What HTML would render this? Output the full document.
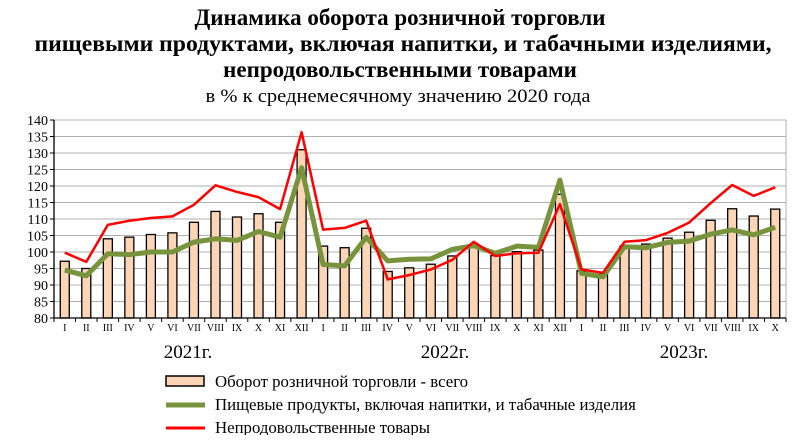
<!DOCTYPE html>
<html><head><meta charset="utf-8"><style>
body{margin:0;background:#fff;width:800px;height:435px;overflow:hidden;font-family:"Liberation Serif",serif;}
</style></head><body>
<svg id="s" width="800" height="435" xmlns="http://www.w3.org/2000/svg" font-family="Liberation Serif, serif">
<text x="400" y="25" text-anchor="middle" font-size="23" font-weight="bold">Динамика оборота розничной торговли</text>
<text x="403" y="51" text-anchor="middle" font-size="23" font-weight="bold" textLength="737" lengthAdjust="spacingAndGlyphs">пищевыми продуктами, включая напитки, и табачными изделиями,</text>
<text x="400" y="77" text-anchor="middle" font-size="23" font-weight="bold">непродовольственными товарами</text>
<text x="398" y="102" text-anchor="middle" font-size="19" textLength="385" lengthAdjust="spacingAndGlyphs">в % к среднемесячному значению 2020 года</text>
<g id="g"></g>
<rect x="166" y="376" width="38" height="10" fill="#fbd5b5" stroke="#000" stroke-width="1.5"/>
<line x1="166" y1="405" x2="205" y2="405" stroke="#77933c" stroke-width="5"/>
<line x1="166" y1="428" x2="205" y2="428" stroke="#ff0000" stroke-width="3"/>
<text x="215" y="387" font-size="16.8">Оборот розничной торговли - всего</text>
<text x="215" y="410" font-size="16.8">Пищевые продукты, включая напитки,  и табачные изделия</text>
<text x="215" y="433" font-size="16.8">Непродовольственные товары</text>
</svg>
<script>
var b=[97.2,95,104,104.5,105.3,105.8,109,112.3,110.6,111.6,109,131,101.8,101.3,107.2,94.1,95.2,96.3,98.8,101.8,98.9,100.1,100.6,117.5,94.3,93.3,101.8,102.4,104.2,106,109.6,113.1,110.9,113];
var gr=[94.5,92.8,99.5,99.2,100,100,103,104,103.5,106.2,104.5,125.5,96.2,95.8,104.5,97.3,97.8,97.9,100.8,101.9,99.6,101.8,101.4,121.8,93.5,92.5,101.6,101.3,102.9,103.3,105.4,106.7,105.2,107.5];
var r=[99.8,97,108.2,109.5,110.3,110.8,114.3,120.2,118.2,116.6,113,136.3,106.8,107.3,109.5,91.7,93,94.7,97.6,103.1,98.8,99.6,99.8,114.5,94.7,93.7,103.1,103.6,105.8,108.9,114.8,120.3,117,119.6];
var m=["I","II","III","IV","V","VI","VII","VIII","IX","X","XI","XII"];
var x0=54,x1=786,w=(x1-x0)/34;
function Y(v){return 318-(v-80)*3.3;}
function X(i){return x0+w*(i+0.5);}
var h='';
for(var v=80;v<=140;v+=5){var y=Y(v);if(v>80)h+='<line x1="'+x0+'" y1="'+y+'" x2="'+x1+'" y2="'+y+'" stroke="#b0b0b0" stroke-width="1"/>';
h+='<line x1="'+(x0-4)+'" y1="'+y+'" x2="'+x0+'" y2="'+y+'" stroke="#000"/>';
h+='<text x="'+(x0-6)+'" y="'+(y+5)+'" text-anchor="end" font-size="14">'+v+'</text>';}
h+='<line x1="'+x1+'" y1="'+Y(140)+'" x2="'+x1+'" y2="318" stroke="#b0b0b0"/>';
for(var i=0;i<34;i++){var x=X(i);h+='<rect x="'+(x-4.5)+'" y="'+Y(b[i])+'" width="9" height="'+(318-Y(b[i]))+'" fill="#fbd5b5" stroke="#000" stroke-width="1.3"/>';
h+='<text x="'+x+'" y="331" text-anchor="middle" font-size="10">'+m[i%12]+'</text>';}
for(var i=0;i<=34;i++){var x=x0+w*i;h+='<line x1="'+x+'" y1="318" x2="'+x+'" y2="322" stroke="#000"/>';}
h+='<line x1="'+x0+'" y1="'+Y(140)+'" x2="'+x0+'" y2="318" stroke="#000" stroke-width="1.3"/>';
h+='<line x1="'+x0+'" y1="318" x2="'+x1+'" y2="318" stroke="#000" stroke-width="1.3"/>';
function pl(a,c,sw){return '<polyline fill="none" stroke="'+c+'" stroke-width="'+sw+'" stroke-linejoin="round" points="'+a.map(function(v,i){return X(i).toFixed(1)+','+Y(v).toFixed(1)}).join(' ')+'"/>';}
h+=pl(gr,'#77933c',5)+pl(r,'#ff0000',2.5);
h+='<text x="188" y="358" text-anchor="middle" font-size="19">2021г.</text><text x="445" y="358" text-anchor="middle" font-size="19">2022г.</text><text x="684" y="358" text-anchor="middle" font-size="19">2023г.</text>';
document.getElementById('g').innerHTML=h;
</script>
</body></html>
